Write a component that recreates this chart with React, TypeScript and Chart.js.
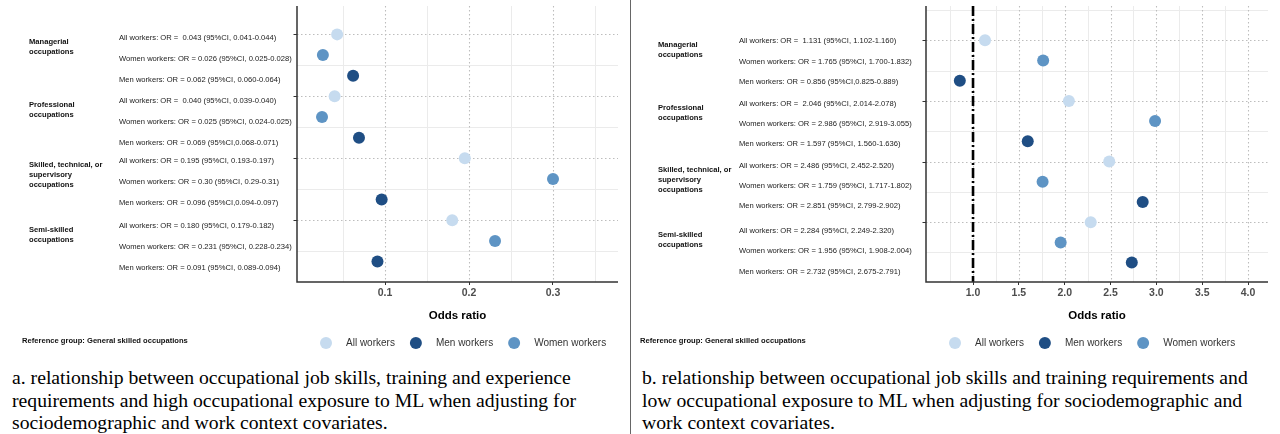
import React, { useEffect, useRef } from "react";
import { Chart, registerables } from "chart.js";

Chart.register(...registerables);

const SANS = "'Liberation Sans', Arial, Helvetica, sans-serif";
const SERIF = "'Liberation Serif', 'Times New Roman', Times, serif";

// ---------------- data ----------------
const groupLabels: string[][] = [
  ["Managerial", "occupations"],
  ["Professional", "occupations"],
  ["Skilled, technical, or", "supervisory", "occupations"],
  ["Semi-skilled", "occupations"],
];
const seriesNames = ["All workers", "Women workers", "Men workers"];
const legendNames = ["All workers", "Men workers", "Women workers"];
const seriesColors: Record<string, string> = {
  "All workers": "#c6dbef",
  "Women workers": "#5e94c4",
  "Men workers": "#1f4e84",
};

const allWorkersA = [0.043, 0.04, 0.195, 0.18];
const womenWorkersA = [0.026, 0.025, 0.3, 0.231];
const menWorkersA = [0.062, 0.069, 0.096, 0.091];
const rowLabelsA = [
  "All workers: OR =  0.043 (95%CI, 0.041-0.044)",
  "Women workers: OR = 0.026 (95%CI, 0.025-0.028)",
  "Men workers: OR = 0.062 (95%CI, 0.060-0.064)",
  "All workers: OR =  0.040 (95%CI, 0.039-0.040)",
  "Women workers: OR = 0.025 (95%CI, 0.024-0.025)",
  "Men workers: OR = 0.069 (95%CI,0.068-0.071)",
  "All workers: OR = 0.195 (95%CI, 0.193-0.197)",
  "Women workers: OR = 0.30 (95%CI, 0.29-0.31)",
  "Men workers: OR = 0.096 (95%CI,0.094-0.097)",
  "All workers: OR = 0.180 (95%CI, 0.179-0.182)",
  "Women workers: OR = 0.231 (95%CI, 0.228-0.234)",
  "Men workers: OR = 0.091 (95%CI, 0.089-0.094)",
];
const xTicksA = [0.1, 0.2, 0.3];

const allWorkersB = [1.131, 2.046, 2.486, 2.284];
const womenWorkersB = [1.765, 2.986, 1.759, 1.956];
const menWorkersB = [0.856, 1.597, 2.851, 2.732];
const rowLabelsB = [
  "All workers: OR =  1.131 (95%CI, 1.102-1.160)",
  "Women workers: OR = 1.765 (95%CI, 1.700-1.832)",
  "Men workers: OR = 0.856 (95%CI,0.825-0.889)",
  "All workers: OR =  2.046 (95%CI, 2.014-2.078)",
  "Women workers: OR = 2.986 (95%CI, 2.919-3.055)",
  "Men workers: OR = 1.597 (95%CI, 1.560-1.636)",
  "All workers: OR = 2.486 (95%CI, 2.452-2.520)",
  "Women workers: OR = 1.759 (95%CI, 1.717-1.802)",
  "Men workers: OR = 2.851 (95%CI, 2.799-2.902)",
  "All workers: OR = 2.284 (95%CI, 2.249-2.320)",
  "Women workers: OR = 1.956 (95%CI, 1.908-2.004)",
  "Men workers: OR = 2.732 (95%CI, 2.675-2.791)",
];
const xTicksB = [1.0, 1.5, 2.0, 2.5, 3.0, 3.5, 4.0];
const referenceOR = 1;

const referenceNote = "Reference group: General skilled occupations";
const axisTitle = "Odds ratio";
const captionA = [
  "a. relationship between occupational job skills, training and experience",
  "requirements and high occupational exposure to ML when adjusting for",
  "sociodemographic and work context covariates.",
];
const captionB = [
  "b. relationship between occupational job skills and training requirements and",
  "low occupational exposure to ML when adjusting for sociodemographic and",
  "work context covariates.",
];

// ---------------- layout ----------------
interface PanelSpec {
  values: number[][];
  rowLabels: string[];
  ticks: number[];
  xMin: number;
  xMax: number;
  yMin: number;
  yMax: number;
  left: number;
  width: number;
  padLeft: number;
  rowTextX: number;
  groupX: number;
  refNoteX: number;
  labelShift: number[];
  refLine: number | null;
}

const CANVAS_H = 360;

const panelA: PanelSpec = {
  values: [allWorkersA, womenWorkersA, menWorkersA],
  rowLabels: rowLabelsA,
  ticks: xTicksA,
  xMin: -0.0048,
  xMax: 0.3774,
  yMin: -1.374,
  yMax: 11.99,
  left: 0,
  width: 630,
  padLeft: 297,
  rowTextX: 119,
  groupX: 29,
  refNoteX: 22,
  labelShift: [4, 5, 3, 6],
  refLine: null,
};

const panelB: PanelSpec = {
  values: [allWorkersB, womenWorkersB, menWorkersB],
  rowLabels: rowLabelsB,
  ticks: xTicksB,
  xMin: 0.487,
  xMax: 4.218,
  yMin: -1.695,
  yMax: 11.96,
  left: 631,
  width: 649,
  padLeft: 295,
  rowTextX: 108,
  groupX: 27,
  refNoteX: 9,
  labelShift: [1, 3, 4, 9],
  refLine: referenceOR,
};

function makeDecor(spec: PanelSpec) {
  return {
    id: "decor",
    beforeDatasetsDraw(chart: any) {
      const { ctx, chartArea: a, scales } = chart;
      const xs = scales.x;
      const ys = scales.y;
      const nG = groupLabels.length;
      ctx.save();
      const vline = (x: number) => {
        ctx.beginPath();
        ctx.moveTo(x, a.top);
        ctx.lineTo(x, a.bottom);
        ctx.stroke();
      };
      const hline = (y: number) => {
        ctx.beginPath();
        ctx.moveTo(a.left, y);
        ctx.lineTo(a.right, y);
        ctx.stroke();
      };
      // minor grid
      ctx.strokeStyle = "#ebebeb";
      ctx.lineWidth = 1;
      ctx.setLineDash([]);
      const step = spec.ticks[1] - spec.ticks[0];
      for (let i = 0; i <= spec.ticks.length; i++) {
        const v = spec.ticks[0] - step / 2 + i * step;
        if (v <= xs.min || v >= xs.max) continue;
        vline(Math.round(xs.getPixelForValue(v)) + 0.5);
      }
      for (let g = -1; g < nG; g++) {
        const v = g * 3 + 1.5;
        if (v <= ys.min || v >= ys.max) continue;
        hline(Math.round(ys.getPixelForValue(v)) + 0.5);
      }
      // major dotted grid
      ctx.strokeStyle = "#bdbdbd";
      ctx.lineWidth = 1.1;
      ctx.setLineDash([1.5, 2.5]);
      spec.ticks.forEach((v) => vline(Math.round(xs.getPixelForValue(v)) + 0.5));
      for (let g = 0; g < nG; g++) hline(Math.round(ys.getPixelForValue(g * 3)) + 0.5);
      // reference line
      if (spec.refLine !== null) {
        ctx.strokeStyle = "#000";
        ctx.lineWidth = 2.6;
        ctx.setLineDash([10, 3, 2, 3]);
        vline(xs.getPixelForValue(spec.refLine));
      }
      // axes
      ctx.setLineDash([]);
      ctx.strokeStyle = "#333";
      ctx.lineWidth = 1.5;
      ctx.beginPath();
      ctx.moveTo(a.left, a.top);
      ctx.lineTo(a.left, a.bottom);
      ctx.lineTo(a.right, a.bottom);
      ctx.stroke();
      ctx.lineWidth = 1;
      for (let g = 0; g < nG; g++) {
        const y = Math.round(ys.getPixelForValue(g * 3)) + 0.5;
        ctx.beginPath();
        ctx.moveTo(a.left - 3.5, y);
        ctx.lineTo(a.left, y);
        ctx.stroke();
      }
      ctx.restore();
    },
    afterDraw(chart: any) {
      const { ctx, chartArea: a, scales } = chart;
      const ys = scales.y;
      ctx.save();
      ctx.textBaseline = "middle";
      ctx.textAlign = "left";
      // row labels
      ctx.fillStyle = "#1a1a1a";
      ctx.font = `7.6px ${SANS}`;
      groupLabels.forEach((_, g) => {
        for (let k = 0; k < 3; k++) {
          const y = ys.getPixelForValue(g * 3 + k) + spec.labelShift[g];
          ctx.fillText(spec.rowLabels[g * 3 + k], spec.rowTextX, y);
        }
      });
      // group labels
      ctx.fillStyle = "#111";
      ctx.font = `bold 7.6px ${SANS}`;
      groupLabels.forEach((lines, g) => {
        const y0 = ys.getPixelForValue(g * 3) + spec.labelShift[g] + 4;
        lines.forEach((ln, j) => ctx.fillText(ln, spec.groupX, y0 + j * 10));
      });
      // reference note
      ctx.fillText(referenceNote, spec.refNoteX, 341);
      // legend
      ctx.font = `10px ${SANS}`;
      let x = a.left + 29;
      const ly = 343;
      legendNames.forEach((name) => {
        ctx.fillStyle = seriesColors[name];
        ctx.beginPath();
        ctx.arc(x, ly, 6, 0, Math.PI * 2);
        ctx.fill();
        ctx.fillStyle = "#333";
        const tx = x + 20;
        ctx.fillText(name, tx, ly);
        x = tx + ctx.measureText(name).width + 21;
      });
      ctx.restore();
    },
  };
}

function Panel({ spec }: { spec: PanelSpec }) {
  const ref = useRef<HTMLCanvasElement | null>(null);
  useEffect(() => {
    if (!ref.current) return;
    const datasets = seriesNames.map((name, s) => ({
      label: name,
      data: spec.values[s].map((v, g) => ({ x: v, y: g * 3 + s })),
      backgroundColor: seriesColors[name],
      borderWidth: 0,
      pointRadius: 6,
      pointHoverRadius: 6,
    }));
    const chart = new Chart(ref.current, {
      type: "scatter",
      data: { datasets },
      options: {
        animation: false,
        responsive: false,
        devicePixelRatio: 1,
        layout: {
          padding: { left: spec.padLeft, right: 12, top: 0, bottom: 37.1 },
        },
        plugins: {
          legend: { display: false },
          tooltip: { enabled: false },
        },
        scales: {
          x: {
            type: "linear",
            min: spec.xMin,
            max: spec.xMax,
            afterBuildTicks: (scale: any) => {
              scale.ticks = spec.ticks.map((v) => ({ value: v }));
            },
            ticks: {
              callback: (v: any) => Number(v).toFixed(1),
              font: { family: SANS, size: 10.5, weight: "bold" },
              color: "#4d4d4d",
              padding: 2,
              maxRotation: 0,
              autoSkip: false,
            },
            grid: {
              display: true,
              drawOnChartArea: false,
              drawTicks: true,
              tickLength: 3,
              tickColor: "#333",
              tickWidth: 1,
            },
            border: { display: false },
            title: {
              display: true,
              text: axisTitle,
              color: "#000",
              font: { family: SANS, size: 11.5, weight: "bold" },
              padding: { top: 7.5, bottom: 0 },
            },
          },
          y: {
            type: "linear",
            display: false,
            reverse: true,
            min: spec.yMin,
            max: spec.yMax,
          },
        },
      },
      plugins: [makeDecor(spec)],
    } as any);
    return () => chart.destroy();
  }, [spec]);
  return (
    <canvas
      ref={ref}
      width={spec.width}
      height={CANVAS_H}
      style={{ position: "absolute", left: spec.left, top: 0, width: spec.width, height: CANVAS_H }}
    />
  );
}

const captionStyle: React.CSSProperties = {
  position: "absolute",
  top: 366,
  fontFamily: SERIF,
  fontSize: "19.7px",
  lineHeight: "22.5px",
  color: "#000",
  whiteSpace: "nowrap",
};

export default function App() {
  return (
    <div
      style={{
        position: "fixed",
        left: 0,
        top: 0,
        width: 1280,
        height: 434,
        background: "#fff",
        overflow: "hidden",
      }}
    >
      <Panel spec={panelA} />
      <Panel spec={panelB} />
      <div style={{ position: "absolute", left: 630, top: 0, width: 1, height: 434, background: "#666" }} />
      <div style={{ ...captionStyle, left: 12 }}>
        {captionA.map((l, i) => (
          <div key={i}>{l}</div>
        ))}
      </div>
      <div style={{ ...captionStyle, left: 642 }}>
        {captionB.map((l, i) => (
          <div key={i}>{l}</div>
        ))}
      </div>
    </div>
  );
}
